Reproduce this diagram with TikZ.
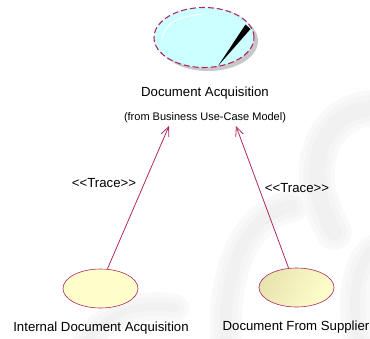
\documentclass[tikz,border=0pt]{standalone}
\usepackage{fontspec}
\setmainfont{Liberation Sans}[Ligatures=TeXOff]
\usetikzlibrary{arrows.meta,shapes.geometric}
\definecolor{umlred}{RGB}{176,40,96}
\definecolor{cyanfill}{RGB}{204,255,255}
\definecolor{yelfill}{RGB}{255,255,204}
\definecolor{yeldark}{RGB}{232,228,176}
\definecolor{shadowgray}{RGB}{200,200,200}
\definecolor{wmA}{RGB}{249,249,249}
\definecolor{wmB}{RGB}{245,245,245}
\definecolor{wmC}{RGB}{241,241,241}
\tikzset{
  lbl/.style={inner sep=0pt, font=\fontsize{13.2}{15}\selectfont},
  small/.style={inner sep=0pt, font=\fontsize{11}{13}\selectfont},
  trace/.style={draw=umlred, line width=0.8pt, -{Straight Barb[length=9pt,width=8pt]}},
  usecase/.style={ellipse, draw=umlred, line width=0.6pt, minimum width=75pt, minimum height=39pt, inner sep=0pt},
  wmpath/.style={line cap=round},
  wmA/.style={wmpath, draw=wmA, line width=#1},
  wmB/.style={wmpath, draw=wmB, line width=#1},
  wmC/.style={wmpath, draw=wmC, line width=#1},
}
\newcommand{\softband}[2]{%
  \draw[wmA={#2+10pt}] #1;
  \draw[wmB={#2}] #1;
  \draw[wmC={#2-10pt}] #1;
}
\begin{document}
\begin{tikzpicture}[x=1pt,y=-1pt]
\useasboundingbox (0,0) rectangle (370,338);
% faint watermark
\softband{(372,108) .. controls (322,112) and (298,170) .. (334,232)}{26pt}
\softband{(292,206) .. controls (250,214) and (222,262) .. (226,345)}{22pt}
\softband{(85,345) .. controls (105,312) and (140,302) .. (175,308)}{18pt}
\softband{(372,250) .. controls (355,270) and (350,300) .. (360,345)}{20pt}
% top business use case
\fill[shadowgray] (208,41) ellipse[x radius=50, y radius=30];
\node[ellipse, fill=cyanfill, draw=umlred, line width=1.1pt, dash pattern=on 6pt off 3pt, minimum width=100pt, minimum height=60pt, inner sep=0pt] (top) at (204,37.5) {};
\draw[white, line width=0.8pt] (162,39) .. controls (165,22) and (180,16) .. (204,14);
\fill[black] (245.5,24.5) -- (250.5,29) -- (218,66) -- cycle;
\node[lbl] (toplabel) at (205,93) {Document Acquisition};
\node[small] (topfrom) at (205,118) {(from Business Use-Case Model)};
% bottom use cases
\node[usecase, fill=yelfill] (left) at (100.5,288.5) {};
\node[usecase, shading=axis, left color=yeldark, right color=yelfill, shading angle=60] (right) at (296.5,287.5) {};
\node[lbl] (leftlabel) at (101,328) {Internal Document Acquisition};
\node[lbl] (rightlabel) at (296,327) {Document From Supplier};
% trace arrows
\coordinate (ltip) at (169,126);
\coordinate (rtip) at (236,126);
\draw[trace] (left.north) ++(7,0) -- (ltip);
\draw[trace] (right.north) ++(-8,0) -- (rtip);
\node[lbl] (ltrace) at (104,183.5) {<<Trace>>};
\node[lbl] (rtrace) at (297,188) {<<Trace>>};
\end{tikzpicture}
\end{document}
